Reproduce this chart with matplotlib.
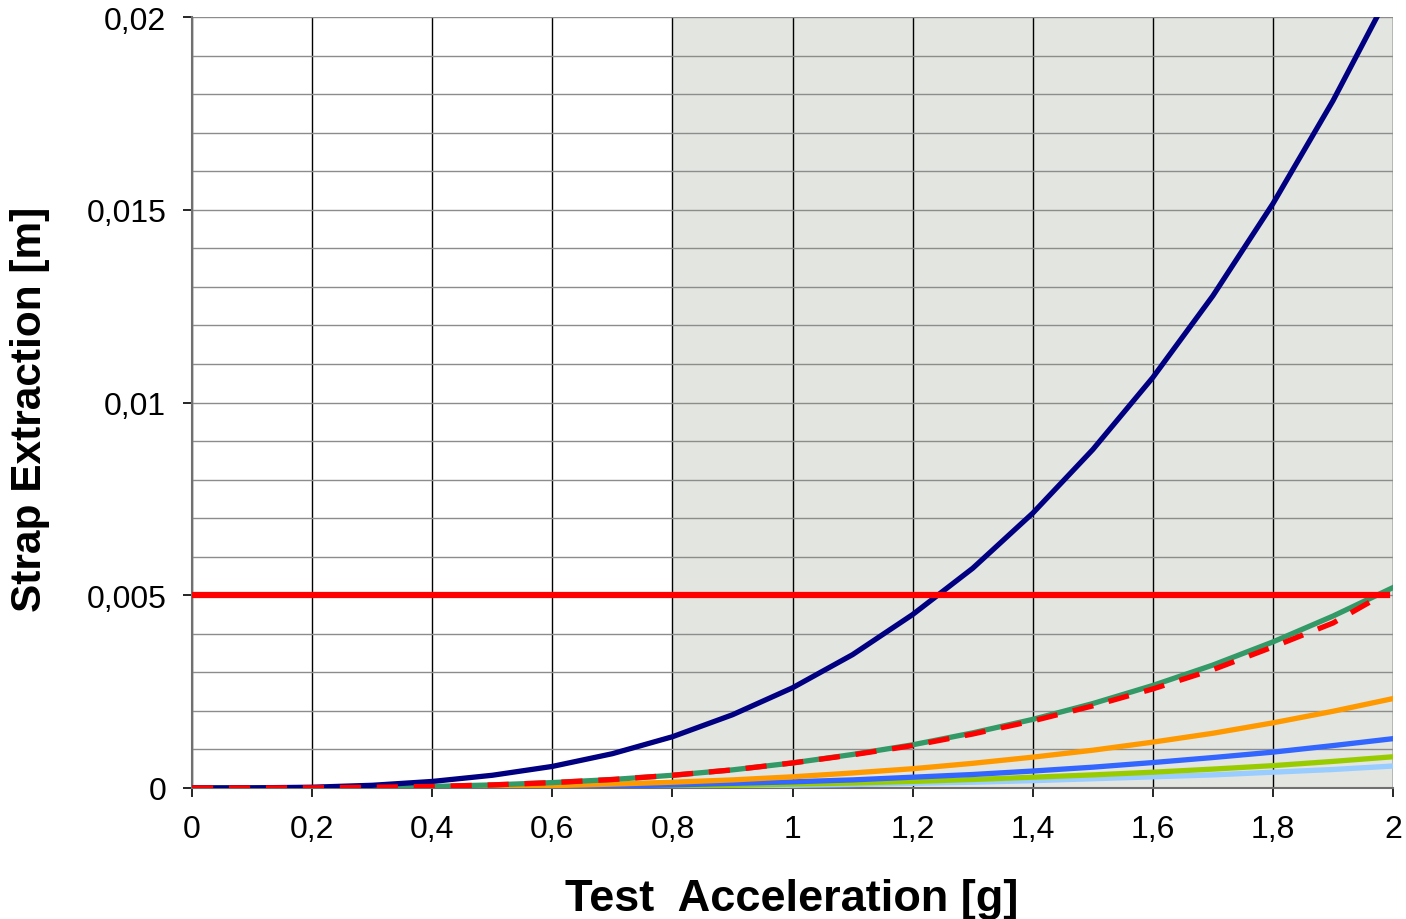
import numpy as np
import matplotlib.pyplot as plt
from matplotlib.ticker import FuncFormatter, MultipleLocator

plt.rcParams['font.family'] = ['Liberation Sans', 'DejaVu Sans']

# test acceleration [g]
accel = [0.0, 0.1, 0.2, 0.3, 0.4, 0.5, 0.6, 0.7, 0.8, 0.9, 1.0,
         1.1, 1.2, 1.3, 1.4, 1.5, 1.6, 1.7, 1.8, 1.9, 2.0]

# strap extraction [m] per configuration
navy_vals = [0, 0.000003, 0.00002, 0.00007, 0.00017, 0.00033, 0.00056, 0.00089,
             0.00133, 0.0019, 0.0026, 0.00346, 0.0045, 0.0057, 0.00713, 0.00878,
             0.01065, 0.01277, 0.01516, 0.01783, 0.0208]
green_vals = [0, 0, 0.000005, 0.00002, 0.00004, 0.00008, 0.00014, 0.00022,
              0.00033, 0.00047, 0.00065, 0.00087, 0.00112, 0.00143, 0.00178,
              0.00219, 0.00266, 0.00319, 0.00379, 0.00446, 0.0052]
red_x = accel[:20] + [1.97]
red_vals = [0, 0, 0.000005, 0.00002, 0.00004, 0.00008, 0.00014, 0.00022,
            0.00033, 0.00047, 0.00065, 0.00086, 0.0011, 0.0014, 0.00174,
            0.00213, 0.00257, 0.00307, 0.00366, 0.00428, 0.0049]
orange_vals = [0, 0, 0, 0.00001, 0.00002, 0.00004, 0.00006, 0.0001, 0.00015,
               0.00021, 0.00029, 0.00039, 0.0005, 0.00064, 0.0008, 0.00098,
               0.00119, 0.00142, 0.00169, 0.00199, 0.00232]
blue_vals = [0, 0, 0, 0, 0.00001, 0.00002, 0.00003, 0.00005, 0.00008, 0.00012,
             0.00016, 0.00021, 0.00028, 0.00035, 0.00044, 0.00054, 0.00066,
             0.00079, 0.00093, 0.0011, 0.00128]
ygreen_vals = [0, 0, 0, 0, 0, 0.00001, 0.00002, 0.00003, 0.00005, 0.00007,
               0.0001, 0.00013, 0.00017, 0.00022, 0.00028, 0.00034, 0.00041,
               0.00049, 0.00058, 0.00069, 0.00081]
lblue_vals = [0, 0, 0, 0, 0, 0.00001, 0.00002, 0.00002, 0.00004, 0.00005,
              0.00007, 0.00009, 0.00012, 0.00015, 0.00019, 0.00024, 0.00029,
              0.00034, 0.00041, 0.00048, 0.00057]

limit = 0.005
shade_start = 0.8

fig = plt.figure(figsize=(14.06, 9.2), dpi=100)
ax = fig.add_axes([0.1366, 0.1424, 0.8542, 0.838])

ax.axvspan(shade_start, 2.0, color='#e3e5e0', zorder=0, lw=0)

ax.set_xlim(0, 2)
ax.set_ylim(0, 0.02)
ax.xaxis.set_major_locator(MultipleLocator(0.2))
ax.yaxis.set_major_locator(MultipleLocator(0.005))
ax.yaxis.set_minor_locator(MultipleLocator(0.001))

ax.grid(axis='x', which='major', color='black', lw=1.0, zorder=1)
ax.grid(axis='y', which='both', color='#8c8c8c', lw=1.0, zorder=1)
ax.tick_params(axis='y', which='minor', length=0)
ax.tick_params(axis='both', which='major', direction='out', length=6.5,
               width=1.2, labelsize=23, pad=12)

ax.plot(accel, lblue_vals, color='#99ccff', lw=3.8, zorder=3)
ax.plot(accel, ygreen_vals, color='#99cc00', lw=3.8, zorder=3)
ax.plot(accel, blue_vals, color='#3366ff', lw=3.8, zorder=3)
ax.plot(accel, orange_vals, color='#ff9900', lw=3.8, zorder=3)
ax.plot(accel, green_vals, color='#339966', lw=3.8, zorder=3)
ax.plot(accel, navy_vals, color='#000080', lw=3.8, zorder=4)
ax.plot(red_x, red_vals, color='#ff0000', lw=3.8, ls=(0, (4, 3)), zorder=5)
ax.axhline(limit, xmin=0, xmax=0.995, color='#ff0000', lw=4.5, zorder=6)

def comma(v, pos):
    s = ('%.3f' % v).rstrip('0').rstrip('.')
    return s.replace('.', ',')

ax.xaxis.set_major_formatter(FuncFormatter(comma))
ax.yaxis.set_major_formatter(FuncFormatter(comma))

for side in ['top', 'right']:
    ax.spines[side].set_visible(False)
ax.spines['left'].set_color('#707070')
ax.spines['bottom'].set_color('#707070')
ax.spines['left'].set_linewidth(1.5)
ax.spines['bottom'].set_linewidth(1.5)

ax.set_xlabel('Test  Acceleration [g]', fontsize=32.5, fontweight='bold', va='center')
ax.set_ylabel('Strap Extraction [m]', fontsize=30.5, fontweight='bold', va='center')
ax.xaxis.set_label_coords(0.499, -0.143)
ax.yaxis.set_label_coords(-0.135, 0.4925)

fig.savefig('out.png', dpi=100)
